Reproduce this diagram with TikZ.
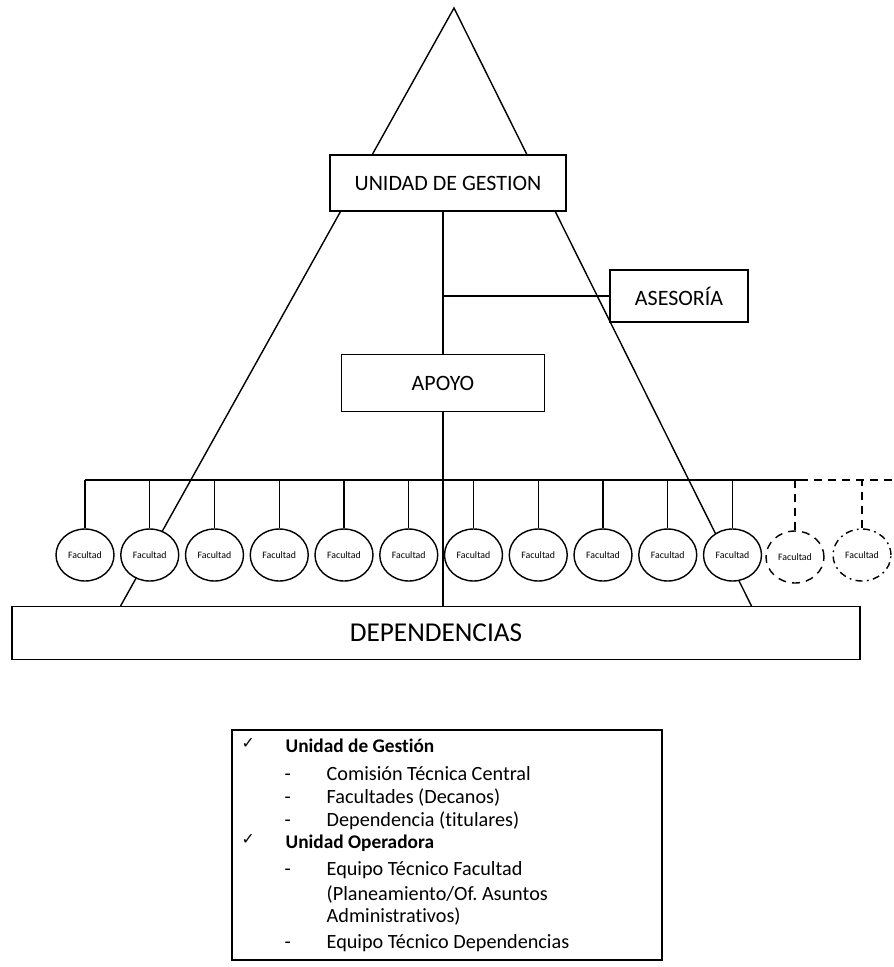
\documentclass[tikz,border=0pt]{standalone}
\usepackage{fontspec}
\setmainfont{Carlito}[Ligatures=NoCommon]
\newfontfamily\simbolo{DejaVu Sans}
\usetikzlibrary{shapes.geometric}

\begin{document}
\begin{tikzpicture}[x=0.02cm, y=-0.02cm, line width=0.8pt,
    caja/.style={draw, fill=white, inner sep=0pt, font=\fontsize{12.5}{15}\selectfont},
    facu/.style={draw, fill=white, ellipse, inner sep=0pt, minimum width=1.16cm, minimum height=1.04cm, font=\fontsize{5.6}{7}\selectfont},
    item/.style={anchor=base west, inner sep=0pt, font=\fontsize{11.5}{13}\selectfont}]
  \useasboundingbox (0,0) rectangle (893,967);
  % piramide
  \coordinate (cima) at (454,8);
  \coordinate (pieizq) at (120,607);
  \coordinate (pieder) at (752,607);
  \draw (pieizq) -- (cima) -- (pieder);
  \node[caja, minimum width=4.72cm, minimum height=1.12cm] (gestion) at (448,183) {UNIDAD DE GESTION};
  \node[caja, minimum width=2.76cm, minimum height=1.04cm] (asesoria) at (679,296) {ASESORÍA};
  \node[caja, minimum width=4.06cm, minimum height=1.14cm] (apoyo) at (443,383) {APOYO};
  \node[caja, minimum width=16.96cm, minimum height=1.06cm, font=\fontsize{15.5}{18}\selectfont] (dep) at (436,633) {DEPENDENCIAS};
  \draw (apoyo.north |- gestion.south) -- (apoyo.north);
  \draw (apoyo.north |- asesoria.west) -- (asesoria.west);
  \draw (apoyo.south) -- (apoyo.south |- dep.north);
  % facultades
  \coordinate (barra) at (85,480);
  \coordinate (corte) at (800,480);
  \coordinate (borde) at (893,480);
  \draw (barra) -- (corte);
  \draw[dashed, dash pattern=on 4.5pt off 3.5pt] (corte) -- (borde);
  \foreach \i in {0,...,10} {
    \node[facu] (f\i) at (85+64.75*\i,555) {Facultad};
    \draw (f\i.north) -- (f\i.north |- barra);
  }
  \node[facu, dash pattern=on 4.5pt off 3.5pt] (f11) at (795,557) {Facultad};
  \node[facu, dash pattern=on 4pt off 2.5pt on 1pt off 2.5pt] (f12) at (862,555) {Facultad};
  \foreach \i in {11,12}
    \draw[dash pattern=on 4.5pt off 3.5pt] (f\i.north) -- (f\i.north |- barra);
  % leyenda
  \node[draw, inner sep=0pt, minimum width=8.6cm, minimum height=4.6cm] (leyenda) at (447,845) {};
  \foreach \y/\t in {752/Unidad de Gestión, 848/Unidad Operadora} {
    \node[item, font=\fontsize{9}{11}\simbolo] (v\y) at (241,\y-4) {✓};
    \node[item, font=\fontsize{11}{13}\selectfont\bfseries] (t\y) at (285,\y) {\t};
  }
  \foreach \y/\t in {780/Comisión Técnica Central, 803/Facultades (Decanos), 826/Dependencia (titulares), 875/Equipo Técnico Facultad, 948/Equipo Técnico Dependencias} {
    \node[item] (g\y) at (284,\y) {-};
    \node[item] (t\y) at (326,\y) {\t};
  }
  \node[item] (t900) at (326,900) {(Planeamiento/Of.\ Asuntos};
  \node[item] (t922) at (326,922) {Administrativos)};
\end{tikzpicture}
\end{document}
